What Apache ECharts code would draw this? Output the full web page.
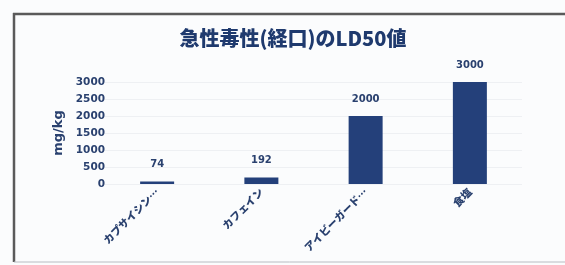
<!DOCTYPE html>
<html><head><meta charset="utf-8">
<script src="https://cdn.jsdelivr.net/npm/echarts@6/dist/echarts.min.js"></script>
<style>html,body{margin:0;padding:0;background:#fbfcfd;}#c{width:565px;height:265px;}</style>
</head><body><div id="c"></div>
<script>
const categories = ["カプサイシン…", "カフェイン", "アイビーガード…", "食塩"];
const values = [74, 192, 2000, 3000];
const yTicks = [0, 500, 1000, 1500, 2000, 2500, 3000];
const titleText = "急性毒性(経口)のLD50値";
const yName = "mg/kg";

const navy = "#24407a";
const textNavy = "#2a416f";
const font = '"Noto Sans CJK JP", "DejaVu Sans", sans-serif';
const numFont = '"DejaVu Sans", "Liberation Sans", sans-serif';
const chart = echarts.init(document.getElementById('c'), null, {renderer: 'canvas'});
chart.setOption({
  backgroundColor: '#fbfcfd',
  animation: false,
  title: {
    text: titleText, left: 288, top: 23, textAlign: 'center',
    textStyle: {color: '#1f3a6e', fontSize: 20, fontWeight: 900, fontFamily: font}
  },
  graphic: [
    {type: 'line', shape: {x1: 14, y1: 13, x2: 14, y2: 262}, style: {stroke: '#5a5a5a', lineWidth: 2.5}},
    {type: 'line', shape: {x1: 13, y1: 14, x2: 565, y2: 14}, style: {stroke: '#5a5a5a', lineWidth: 2.5}},
    {type: 'line', shape: {x1: 14, y1: 262, x2: 565, y2: 262}, style: {stroke: '#b8bcc2', lineWidth: 1}}
  ],
  grid: {left: 105, right: 43, top: 82, bottom: 81, containLabel: false},
  xAxis: {
    type: 'category', data: categories,
    axisLine: {show: false}, axisTick: {show: false},
    axisLabel: {rotate: 45, interval: 0, margin: 6, color: textNavy, fontSize: 10.5, fontWeight: 900, fontFamily: font}
  },
  yAxis: {
    type: 'value', min: yTicks[0], max: yTicks[yTicks.length - 1], interval: yTicks[1] - yTicks[0],
    name: yName, nameLocation: 'middle', nameRotate: 90, nameGap: 37,
    nameTextStyle: {color: textNavy, fontSize: 13, fontWeight: 'bold', fontFamily: numFont},
    axisLine: {show: false}, axisTick: {show: false},
    axisLabel: {color: textNavy, fontSize: 10.5, fontWeight: 'bold', fontFamily: numFont, margin: 0,
      formatter: v => String(v)},
    splitLine: {lineStyle: {color: '#eef0f3', width: 1}}
  },
  series: [{
    type: 'bar', data: values, barWidth: 34,
    itemStyle: {color: navy},
    label: {show: true, position: 'top', distance: 12, color: textNavy, fontSize: 10, fontWeight: 'bold', fontFamily: numFont}
  }]
});
</script></body></html>
